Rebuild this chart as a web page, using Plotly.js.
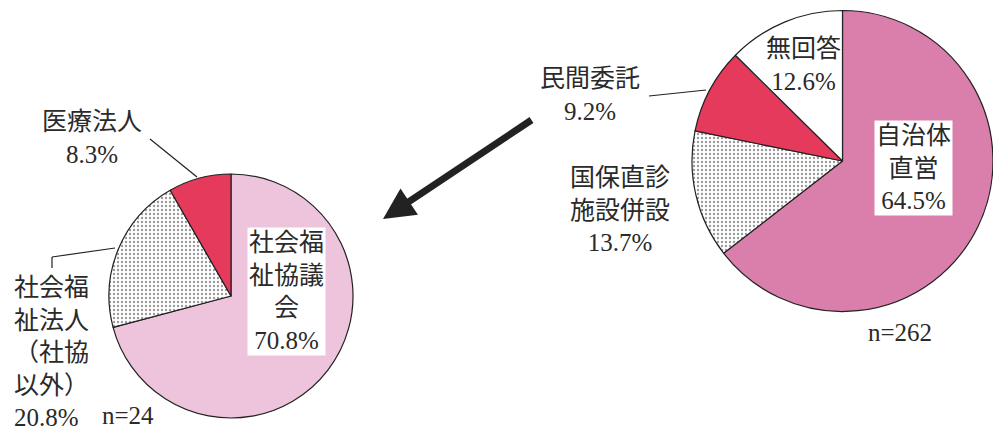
<!DOCTYPE html>
<html><head><meta charset="utf-8">
<script src="https://cdn.plot.ly/plotly-3.0.1.min.js"></script>
<style>html,body{margin:0;padding:0;background:#fff;}#chart{width:993px;height:432px;}</style>
</head><body><div id="chart"></div>
<script>
// Right pie: 運営形態 (n=262)
const rightCategories = ['自治体直営', '国保直診施設併設', '民間委託', '無回答'];
const rightValues = [64.5, 13.7, 9.2, 12.6];
const rightLabelLines = [['自治体', '直営'], ['国保直診', '施設併設'], ['民間委託'], ['無回答']];
const rightN = 262;
// Left pie: 民間委託先内訳 (n=24)
const leftCategories = ['社会福祉協議会', '社会福祉法人（社協以外）', '医療法人'];
const leftValues = [70.8, 20.8, 8.3];
const leftLabelLines = [['社会福', '祉協議', '会'], ['社会福', '祉法人', '（社協', '以外）'], ['医療法人']];
const leftN = 24;

const W = 993, H = 432;
const px = x => x / W, py = y => 1 - y / H;
const FONT = '"Liberation Serif", "Noto Sans CJK JP", serif';
const TXT = '#2a2a2a';

const pinkDark = '#DA7FAC', pinkLight = '#EDC4DC', red = '#E53A5C', white = '#FFFFFF';
const dotPattern = {shape: '.', fgcolor: '#333333', bgcolor: '#FFFFFF', size: 4, solidity: 0.28};
const noPattern = {shape: ''};

const traces = [
  {
    type: 'pie', labels: rightCategories, values: rightValues, sort: false,
    direction: 'clockwise', rotation: 0, textinfo: 'none', hoverinfo: 'label+percent',
    domain: {x: [px(692), 1.0], y: [py(312), py(10)]},
    marker: {colors: [pinkDark, white, red, white],
             line: {color: '#222', width: 1.2},
             pattern: {shape: ['', '.', '', ''], fgcolor: '#333333', bgcolor: ['#fff','#fff','#fff','#fff'], size: 4, solidity: 0.28, fillmode: 'overlay'}},
    showlegend: false
  },
  {
    type: 'pie', labels: leftCategories, values: leftValues, sort: false,
    direction: 'clockwise', rotation: 0, textinfo: 'none', hoverinfo: 'label+percent',
    domain: {x: [px(109), px(353)], y: [py(418), py(174)]},
    marker: {colors: [pinkLight, white, red],
             line: {color: '#222', width: 1.2},
             pattern: {shape: ['', '.', ''], fgcolor: '#333333', size: 4, solidity: 0.28, fillmode: 'overlay'}},
    showlegend: false
  }
];

function lab(lines, v) { return lines.concat([v.toFixed(1) + '%']).join('<br>'); }

const ann = [];
function addText(text, x, y, opts) {
  ann.push(Object.assign({xref: 'paper', yref: 'paper', x: px(x), y: py(y), text: text,
    showarrow: false, xanchor: 'center', yanchor: 'middle', align: 'center',
    font: {family: FONT, size: 25, color: TXT}}, opts || {}));
}
// right pie labels
addText(lab(rightLabelLines[0], rightValues[0]), 913, 168, {bgcolor: '#fff', borderpad: 1});
addText(lab(rightLabelLines[1], rightValues[1]), 620, 210);
addText(lab(rightLabelLines[2], rightValues[2]), 590, 95);
addText(lab(rightLabelLines[3], rightValues[3]), 803, 65);
addText('n=' + rightN, 900, 332);
// left pie labels
addText(lab(leftLabelLines[0], leftValues[0]), 286, 291, {bgcolor: '#fff', borderpad: 1});
addText(lab(leftLabelLines[1], leftValues[1]), 12, 352, {xanchor: 'left', align: 'left'});
addText(lab(leftLabelLines[2], leftValues[2]), 92, 138);
addText('n=' + leftN, 100, 415, {xanchor: 'left'});
// big arrow
ann.push({xref: 'paper', yref: 'paper', x: px(383), y: py(219), ax: 150, ay: -100, text: '',
  showarrow: true, arrowhead: 2, arrowsize: 0.9, arrowwidth: 7, arrowcolor: '#222', standoff: 0});

const line = (x0, y0, x1, y1) => ({type: 'line', xref: 'paper', yref: 'paper',
  x0: px(x0), y0: py(y0), x1: px(x1), y1: py(y1), line: {color: '#222', width: 1.2}});
const shapes = [
  line(649, 96, 706, 90),
  line(150, 139, 197, 177),
  line(52, 268, 52, 257),
  line(52, 257, 115, 248)
];

Plotly.newPlot('chart', traces, {
  width: W, height: H, margin: {l: 0, r: 0, t: 0, b: 0},
  paper_bgcolor: '#fff', plot_bgcolor: '#fff',
  annotations: ann, shapes: shapes, showlegend: false
}, {staticPlot: true});
</script></body></html>
